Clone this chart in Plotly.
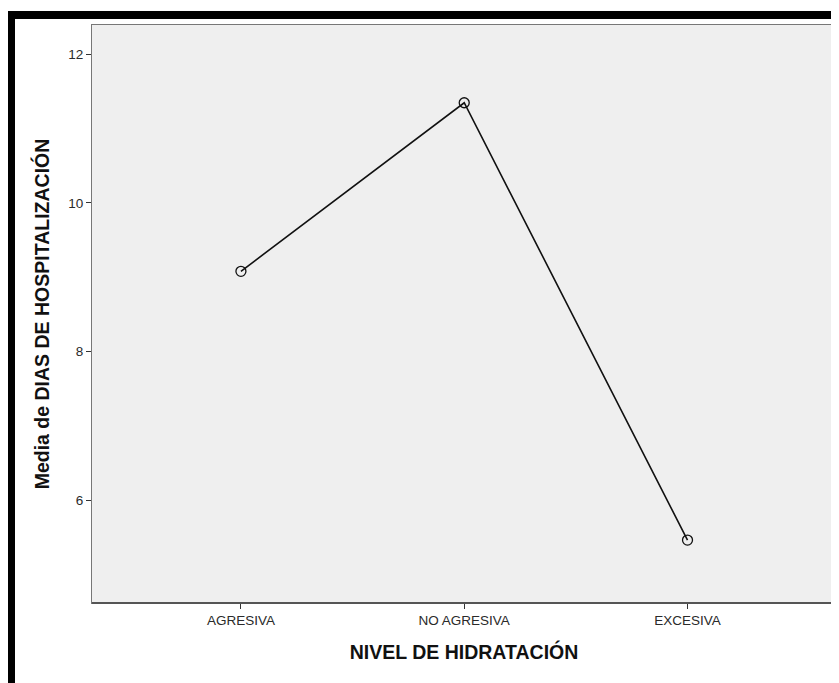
import plotly.graph_objects as go

categories = ["AGRESIVA", "NO AGRESIVA", "EXCESIVA"]
mean_days = [9.08, 11.35, 5.46]
y_ticks = [6, 8, 10, 12]

# page is offset by the default 8px body margin
OFF = 8
W, H = 839 - OFF, 683 - OFF
L, R, T, B = 92 - OFF, 3, 25 - OFF, 80
pw, ph = W - L - R, H - T - B

def px_x(x):
    return (x - OFF - L) / pw

def px_y(y):
    return (H - B - (y - OFF)) / ph

fig = go.Figure()
fig.add_trace(go.Scatter(
    x=categories, y=mean_days, mode="lines+markers",
    line=dict(color="#111111", width=1.6),
    marker=dict(symbol="circle-open", size=10, color="#111111", line=dict(width=1.3)),
    showlegend=False, hoverinfo="x+y",
))

shapes = [
    # black frame (top and left bands)
    dict(type="rect", xref="paper", yref="paper", x0=px_x(OFF), x1=px_x(W + OFF + 5),
         y0=px_y(19), y1=px_y(11), fillcolor="black", line=dict(width=0), layer="above"),
    dict(type="rect", xref="paper", yref="paper", x0=px_x(OFF), x1=px_x(15),
         y0=px_y(H + OFF + 5), y1=px_y(11), fillcolor="black", line=dict(width=0), layer="above"),
    # darker right/bottom edge of plot frame
    dict(type="line", xref="paper", yref="paper", x0=1, x1=1, y0=0, y1=1,
         line=dict(color="#555555", width=2.5)),
    dict(type="line", xref="paper", yref="paper", x0=0, x1=1, y0=0, y1=0,
         line=dict(color="#555555", width=2)),
]

fig.update_layout(
    width=W, height=H,
    margin=dict(l=L, r=R, t=T, b=B),
    paper_bgcolor="white",
    plot_bgcolor="#efefef",
    font=dict(family="Liberation Sans, Arial, sans-serif", color="#222222"),
    shapes=shapes,
    xaxis=dict(
        type="category", range=[-0.667, 2.665],
        showgrid=False, zeroline=False,
        showline=True, linecolor="#777777", linewidth=1.2, mirror=True,
        ticks="outside", ticklen=5, tickcolor="#333333", tickwidth=1,
        tickfont=dict(size=13.5, color="#2a2a2a"),
        title=dict(text="<b>NIVEL DE HIDRATACIÓN</b>", font=dict(size=19.5, color="#111111"), standoff=18),
    ),
    yaxis=dict(
        range=[4.613, 12.397],
        tickvals=y_ticks, ticktext=[str(v) for v in y_ticks],
        showgrid=False, zeroline=False,
        showline=True, linecolor="#777777", linewidth=1.2, mirror=True,
        ticks="outside", ticklen=5, tickcolor="#333333", tickwidth=1,
        tickfont=dict(size=13.5, color="#2a2a2a"),
        title=dict(text="<b>Media de DIAS DE HOSPITALIZACIÓN</b>", font=dict(size=19.5, color="#111111"), standoff=13),
    ),
)

fig.write_html("out.html")
